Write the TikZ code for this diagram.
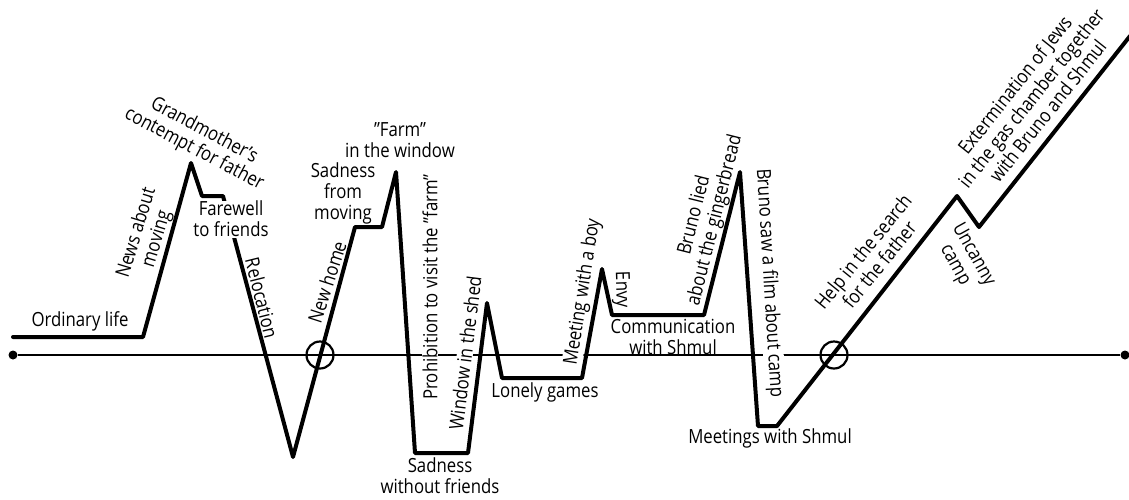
\documentclass[tikz,border=0pt]{standalone}
\usepackage{fontspec}
\setmainfont[FakeStretch=0.86]{Open Sans}

\begin{document}
\begin{tikzpicture}[x=1pt,y=-1pt]
        \tikzset{
            plotline/.style = {
                line width = 4pt,
                line join = round,
                line cap = round},
            axisline/.style = {line width = 1.8pt},
            enddot/.style = {
                shape = circle,
                fill = black,
                inner sep = 0pt,
                minimum size = 9pt},
            turn/.style = {
                shape = circle,
                draw,
                line width = 2.2pt,
                inner sep = 0pt,
                minimum size = 27pt},
            event/.style = {
                font = \fontsize{19.5}{21}\selectfont,
                align = center,
                inner sep = 0.5pt},
            gap/.style = {fill = white}
                }
    \useasboundingbox (0,0) rectangle (1129,499);
    % time axis
    \node[enddot] (start) at (13,355) {};
    \node[enddot] (finish) at (1125,355) {};
    \draw[axisline] (start) -- (finish);
    % labels that break the axis
    \node[event, gap, rotate = 90] (prohibit) at (430,287) {Prohibition to visit the "farm"};
    \node[event, gap, rotate = 83] (window) at (465,353) {Window in the shed};
    \node[event, gap, rotate = 81] (meeting) at (583,292) {Meeting with a boy};
    \node[event, gap, rotate = -86.5] (film) at (769,283) {Bruno saw a film about camp};
    % turning points of the plot
    \coordinate (p0) at (13,337);
    \coordinate (p1) at (143,337);
    \coordinate (p2) at (191,163);
    \coordinate (p3) at (202,196);
    \coordinate (p4) at (223,196);
    \coordinate (p5) at (293,457);
    \coordinate (p6) at (355,227);
    \coordinate (p7) at (382,227);
    \coordinate (p8) at (396,172);
    \coordinate (p9) at (415,453);
    \coordinate (p10) at (468,453);
    \coordinate (p11) at (487,303);
    \coordinate (p12) at (502,378);
    \coordinate (p13) at (582,378);
    \coordinate (p14) at (602,269);
    \coordinate (p15) at (612,315);
    \coordinate (p16) at (704,315);
    \coordinate (p17) at (740,172);
    \coordinate (p18) at (758,426);
    \coordinate (p19) at (777,426);
    \coordinate (p20) at (957,196);
    \coordinate (p21) at (979,227);
    \coordinate (p22) at (1130,36);
    \draw[plotline] (p0) -- (p1) -- (p2) -- (p3) -- (p4) -- (p5) -- (p6)
        -- (p7) -- (p8) -- (p9) -- (p10) -- (p11) -- (p12) -- (p13)
        -- (p14) -- (p15) -- (p16) -- (p17) -- (p18) -- (p19) -- (p20)
        -- (p21) -- (p22);
    % crossings of the axis
    \node[turn] (cross1) at (320,355) {};
    \node[turn] (cross2) at (834,355) {};
    % labels of the events
    \node[event] (ordinary) at (80,321) {Ordinary life};
    \node[event, rotate = 73] (news) at (147,236) {News about\\moving};
    \node[event, rotate = -28] (grandma) at (199,140) {Grandmother's\\contempt for father};
    \node[event, gap] (farewell) at (231,219) {Farewell\\to friends};
    \node[event, rotate = -76] (relocation) at (262,298) {Relocation};
    \node[event, rotate = 72] (newhome) at (327,282) {New home};
    \node[event] (sadmove) at (343,193) {Sadness\\from\\moving};
    \node[event] (farm) at (400,140) {"Farm"\\in the window};
    \node[event] (sadfriends) at (440,476) {Sadness\\without friends};
    \node[event] (lonely) at (545,392) {Lonely games};
    \node[event, rotate = -88] (envy) at (621,290) {Envy};
    \node[event] (communication) at (673,337) {Communication\\with Shmul};
    \node[event, rotate = 76] (lied) at (705,218) {Bruno lied\\about the gingerbread};
    \node[event] (meetings) at (770,438) {Meetings with Shmul};
    \node[event, rotate = 51] (help) at (871,258) {Help in the search\\for the father};
    \node[event, rotate = -61] (uncanny) at (964,260) {Uncanny\\camp};
    \node[event, rotate = 51.5] (exterm) at (1031,98) {Extermination of Jews\\in the gas chamber together\\with Bruno and Shmul};
\end{tikzpicture}
\end{document}
